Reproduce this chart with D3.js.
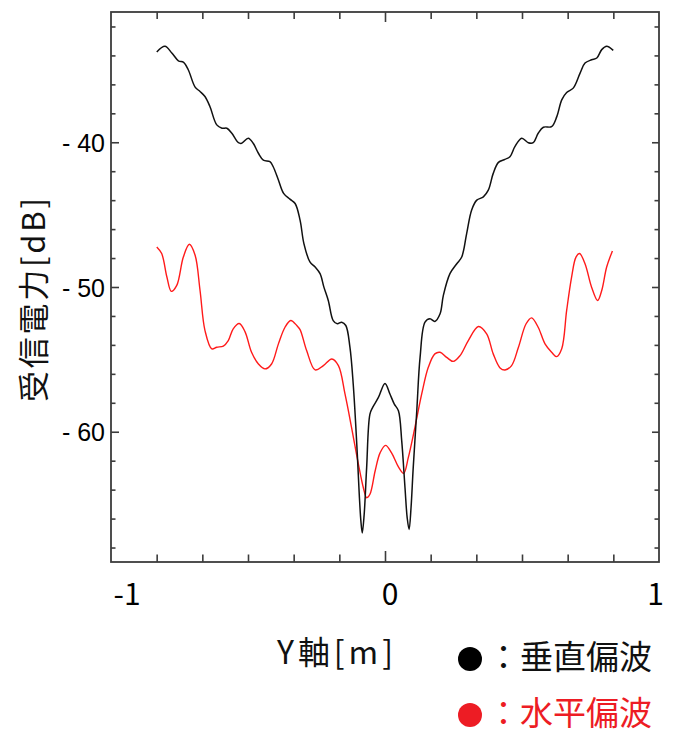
<!DOCTYPE html>
<html><head><meta charset="utf-8">
<script src="https://cdn.jsdelivr.net/npm/d3@7/dist/d3.min.js"></script>
<style>
html,body{margin:0;padding:0;background:#fff;}
svg{display:block;}
</style></head>
<body><svg id="c" width="673" height="736"></svg>
<script>
// Received power [dB] vs Y position [m]
const vertX = [-0.833,-0.803,-0.778,-0.754,-0.735,-0.718,-0.693,-0.675,-0.657,-0.639,-0.614,-0.595,-0.577,-0.559,-0.535,-0.523,-0.499,-0.481,-0.462,-0.444,-0.420,-0.408,-0.389,-0.370,-0.347,-0.328,-0.310,-0.296,-0.274,-0.255,-0.237,-0.223,-0.207,-0.189,-0.174,-0.158,-0.143,-0.128,-0.116,-0.103,-0.094,-0.088,-0.083,-0.076,-0.067,-0.055,-0.045,-0.024,0.000,0.018,0.034,0.049,0.061,0.073,0.081,0.088,0.095,0.103,0.116,0.128,0.146,0.164,0.182,0.201,0.213,0.237,0.262,0.280,0.298,0.316,0.335,0.359,0.377,0.395,0.414,0.438,0.456,0.474,0.499,0.523,0.541,0.559,0.578,0.608,0.627,0.645,0.663,0.687,0.712,0.730,0.754,0.773,0.791,0.809,0.833];
const vertDb = [-33.76,-33.37,-33.83,-34.37,-34.48,-34.99,-36.19,-36.49,-36.84,-37.53,-38.80,-39.03,-39.03,-39.38,-40.03,-40.07,-39.72,-40.07,-40.76,-41.23,-41.34,-41.69,-42.61,-43.53,-43.93,-44.23,-45.38,-47.00,-48.27,-48.62,-49.08,-50.01,-50.93,-52.32,-52.54,-52.43,-52.66,-54.16,-56.70,-60.86,-64.32,-66.17,-66.99,-65.71,-62.48,-58.78,-58.32,-57.63,-56.66,-57.39,-58.09,-58.55,-60.63,-63.87,-65.95,-66.75,-65.25,-62.48,-58.55,-54.86,-52.43,-52.20,-52.38,-51.85,-50.58,-49.08,-48.39,-47.93,-46.31,-44.69,-44.00,-43.77,-43.31,-42.15,-41.39,-41.18,-41.00,-40.30,-39.72,-40.03,-40.03,-39.38,-38.96,-38.92,-38.23,-37.07,-36.56,-36.26,-35.22,-34.53,-34.30,-34.18,-33.60,-33.37,-33.65];
const horzX = [-0.833,-0.815,-0.796,-0.780,-0.760,-0.736,-0.714,-0.693,-0.675,-0.657,-0.632,-0.614,-0.590,-0.572,-0.554,-0.532,-0.511,-0.487,-0.462,-0.438,-0.414,-0.389,-0.365,-0.344,-0.322,-0.310,-0.286,-0.255,-0.225,-0.194,-0.170,-0.146,-0.122,-0.097,-0.079,-0.067,-0.055,-0.036,-0.018,0.002,0.024,0.049,0.068,0.085,0.109,0.134,0.158,0.182,0.201,0.225,0.249,0.274,0.304,0.341,0.371,0.395,0.420,0.438,0.462,0.487,0.515,0.535,0.559,0.584,0.608,0.626,0.645,0.663,0.681,0.697,0.710,0.730,0.754,0.776,0.791,0.809,0.830];
const horzDb = [-47.23,-47.69,-49.31,-50.30,-49.89,-47.93,-47.05,-47.81,-50.24,-53.01,-54.28,-54.16,-54.08,-53.70,-52.89,-52.52,-53.08,-54.51,-55.32,-55.66,-55.32,-53.93,-52.78,-52.31,-52.66,-52.94,-54.39,-55.73,-55.43,-54.97,-55.43,-57.39,-59.71,-62.25,-63.87,-64.56,-64.32,-62.71,-61.46,-60.94,-61.46,-62.43,-62.88,-61.79,-59.71,-57.39,-55.55,-54.62,-54.51,-54.86,-55.14,-54.74,-53.70,-52.73,-53.24,-54.62,-55.59,-55.73,-55.43,-54.16,-52.54,-52.13,-52.78,-53.93,-54.51,-54.81,-54.26,-51.62,-49.31,-47.93,-47.69,-48.39,-50.01,-50.93,-50.24,-48.62,-47.51];
const xMajorTicks = [-1, 0, 1];
const xMinorTicks = [-5/6,-4/6,-3/6,-2/6,-1/6,1/6,2/6,3/6,4/6,5/6];
const yMajorTicks = [-40, -50, -60];
const yMinorTicks = [-68,-66,-64,-62,-58,-56,-54,-52,-48,-46,-44,-42,-38,-36,-34,-32];
const xTitle = "Y軸[m]";
const yTitle = "受信電力[dB]";
const legendLabels = ["：垂直偏波", "：水平偏波"];

const W = 673, H = 736;
const L = 111, R = 659, T = 12, B = 562;
const svg = d3.select("#c");
const x = d3.scaleLinear().domain([-1, 1]).range([L, R]);
const y = d3.scaleLinear().domain([-69, -31]).range([B, T]);

const axisColor = "#3c3c3c";
const styleAxis = g => {
  g.select(".domain").remove();
  g.selectAll(".tick line").attr("stroke", axisColor).attr("stroke-width", 1.6);
};

// Y ticks left (inward) and right (inward)
svg.append("g").attr("transform", `translate(${L},0)`)
  .call(d3.axisRight(y).tickValues(yMinorTicks).tickSize(4.5).tickFormat("")).call(styleAxis);
svg.append("g").attr("transform", `translate(${L},0)`)
  .call(d3.axisRight(y).tickValues(yMajorTicks).tickSize(8).tickFormat("")).call(styleAxis);
svg.append("g").attr("transform", `translate(${R},0)`)
  .call(d3.axisLeft(y).tickValues(yMinorTicks).tickSize(4.5).tickFormat("")).call(styleAxis);
svg.append("g").attr("transform", `translate(${R},0)`)
  .call(d3.axisLeft(y).tickValues(yMajorTicks).tickSize(7).tickFormat("")).call(styleAxis);
// Y tick labels
const yl = svg.append("g").attr("transform", `translate(${L},0)`)
  .call(d3.axisLeft(y).tickValues(yMajorTicks).tickSize(0).tickPadding(6).tickFormat(d => "- " + Math.abs(d)));
yl.select(".domain").remove();
yl.selectAll("text").attr("font-family", "'Liberation Sans', Arial, sans-serif")
  .attr("font-size", 25).attr("fill", "#000").attr("dy", "0.36em");

// X ticks top and bottom (inward)
svg.append("g").attr("transform", `translate(0,${T})`)
  .call(d3.axisBottom(x).tickValues(xMinorTicks).tickSize(7).tickFormat("")).call(styleAxis);
svg.append("g").attr("transform", `translate(0,${T})`)
  .call(d3.axisBottom(x).tickValues([0]).tickSize(10).tickFormat("")).call(styleAxis);
svg.append("g").attr("transform", `translate(0,${B})`)
  .call(d3.axisTop(x).tickValues(xMinorTicks).tickSize(7.5).tickFormat("")).call(styleAxis);
svg.append("g").attr("transform", `translate(0,${B})`)
  .call(d3.axisTop(x).tickValues([0]).tickSize(11).tickFormat("")).call(styleAxis);

// X tick labels
const xShift = v => v < 0 ? 16 : (v === 0 ? 5 : -3.5);
svg.append("g").selectAll("text").data(xMajorTicks).join("text")
  .attr("x", d => x(d) + xShift(d)).attr("y", 605)
  .attr("text-anchor", "middle")
  .attr("font-family", "'Noto Sans CJK JP', sans-serif").attr("font-size", 30)
  .attr("fill", "#000").text(d => d < 0 ? "-" + Math.abs(d) : String(d));

// frame
svg.append("rect").attr("x", L).attr("y", T).attr("width", R - L).attr("height", B - T)
  .attr("fill", "none").attr("stroke", axisColor).attr("stroke-width", 1.8);

// curves
const line = d3.line().x(d => x(d[0])).y(d => y(d[1])).curve(d3.curveCatmullRom.alpha(0.5));
svg.append("path").datum(horzX.map((v, i) => [v, horzDb[i]]))
  .attr("d", line).attr("fill", "none").attr("stroke", "#ff1a1a").attr("stroke-width", 1.4);
svg.append("path").datum(vertX.map((v, i) => [v, vertDb[i]]))
  .attr("d", line).attr("fill", "none").attr("stroke", "#111").attr("stroke-width", 1.5);

// titles
svg.append("text").attr("transform", "translate(45,300) rotate(-90)")
  .attr("text-anchor", "middle")
  .attr("font-family", "'Noto Sans CJK JP', sans-serif").attr("font-size", 31)
  .attr("textLength", 204).attr("lengthAdjust", "spacing")
  .attr("fill", "#111").text(yTitle);
svg.append("text").attr("x", 335).attr("y", 664).attr("text-anchor", "middle")
  .attr("font-family", "'Noto Sans CJK JP', sans-serif").attr("font-size", 32)
  .attr("textLength", 116).attr("lengthAdjust", "spacing")
  .attr("fill", "#111").text(xTitle);

// legend
const legColors = ["#000000", "#ed1c24"];
const lg = svg.append("g").selectAll("g").data(legendLabels).join("g")
  .attr("transform", (d, i) => `translate(0,${i * 56})`);
lg.append("circle").attr("cx", 470).attr("cy", 659).attr("r", 12)
  .attr("fill", (d, i) => legColors[i]);
lg.append("text").attr("x", 487).attr("y", 669)
  .attr("font-family", "'Noto Sans CJK JP', sans-serif").attr("font-size", 33)
  .attr("fill", (d, i) => i === 0 ? "#111" : legColors[i]).text(d => d);
</script></body></html>
